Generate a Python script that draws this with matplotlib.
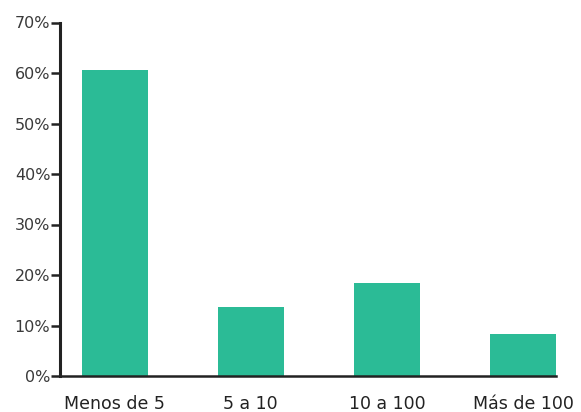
import matplotlib.pyplot as plt
from matplotlib.ticker import FuncFormatter

categories = ['Menos de 5', '5 a 10', '10 a 100', 'Más de 100']
values = [60.5, 13.6, 18.5, 8.3]
yticks = [0, 10, 20, 30, 40, 50, 60, 70]

plt.rcParams['font.family'] = ['DejaVu Sans']

fig = plt.figure(figsize=(5.81, 4.12), dpi=100)
ax = fig.add_axes([60 / 581, 1 - 376 / 412, 496 / 581, 353.5 / 412])

ax.bar(range(len(categories)), values, width=0.485, color='#2bbb96')

ax.set_xlim(-0.402, 3.2425)
ax.set_ylim(0, 70)
ax.set_yticks(yticks)
ax.yaxis.set_major_formatter(FuncFormatter(lambda v, p: f'{v:.0f}%'))
ax.set_xticks(range(len(categories)))
ax.set_xticklabels(categories)

for s in ['top', 'right']:
    ax.spines[s].set_visible(False)
ax.spines['left'].set_linewidth(2.2)
ax.spines['bottom'].set_linewidth(1.8)
ax.spines['left'].set_color('#222222')
ax.spines['bottom'].set_color('#222222')

ax.tick_params(axis='y', length=6.5, width=1.8, color='#222222', pad=0.5,
               labelsize=11.5, labelcolor='#3a3a3a')
ax.tick_params(axis='x', length=0, pad=14, labelsize=12.5, labelcolor='#222222')

fig.savefig('out.png', dpi=100)
